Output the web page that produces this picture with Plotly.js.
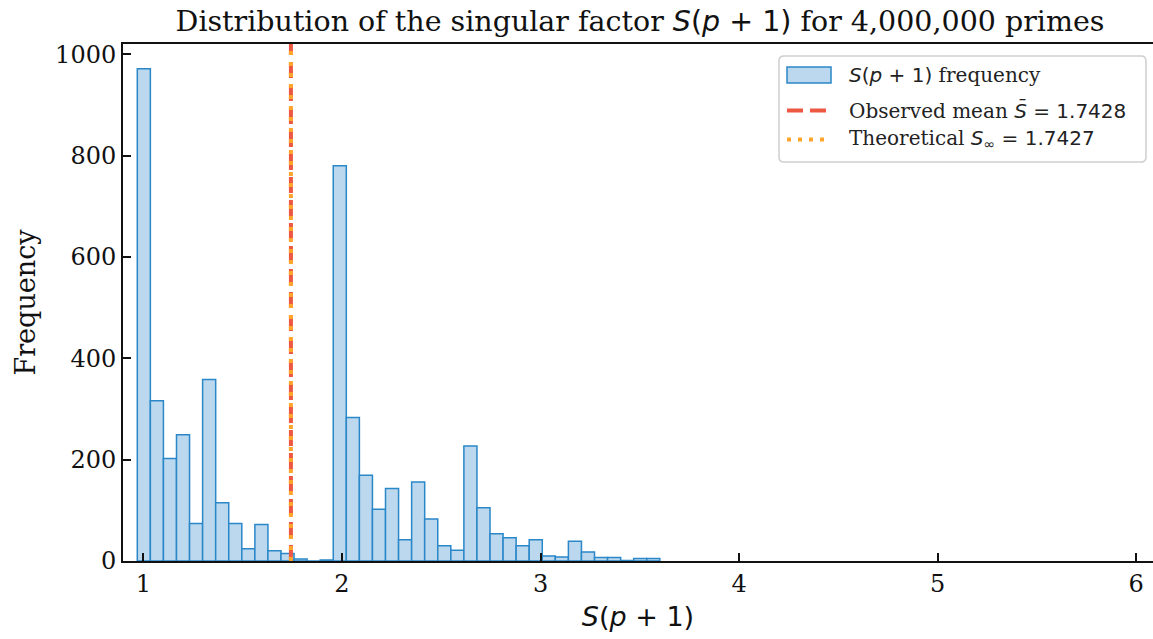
<!DOCTYPE html>
<html>
<head>
<meta charset="utf-8">
<script src="https://cdn.plot.ly/plotly-3.0.1.min.js"></script>
<style>
  html, body { margin: 0; padding: 0; background: #ffffff; overflow: hidden; }
  #chart { width: 1153px; height: 639px; }
</style>
</head>
<body>
<div id="chart"></div>
<script>
// ---- data ----
const binStart = 0.969;      // left edge of the first histogram bin
const binWidth = 0.0658;     // histogram bin width
const binCounts = [971, 316, 202, 249, 74, 358, 115, 74, 24, 72, 20, 15, 4, 0, 2,
                   780, 283, 169, 102, 143, 42, 156, 83, 30, 21, 227, 105, 54, 46, 30,
                   42, 10, 8, 39, 18, 7, 7, 1, 5, 5];
const observedMean = 1.7428;
const theoreticalMean = 1.7427;
const xTicks = [1, 2, 3, 4, 5, 6];
const yTicks = [0, 200, 400, 600, 800, 1000];

// ---- derived ----
const binCenters = binCounts.map((_, i) => binStart + (i + 0.5) * binWidth);
const xRange = [0.897, 6.085];
const yRange = [0, 1020];

const SERIF = 'DejaVu Serif';
const SANS = 'DejaVu Sans';
const mathSP1 = '<span style="font-family:DejaVu Sans"><i>S</i>(<i>p</i> + 1)</span>';

const RED = '#ec5842';
const ORANGE = '#ffa52c';

const traces = [
  {
    type: 'bar',
    x: binCenters,
    y: binCounts,
    width: binWidth,
    marker: { color: '#bbd8ee', line: { color: '#2a87c8', width: 1.5 } },
    name: 'S(p+1) frequency',
    showlegend: false,
    hoverinfo: 'x+y'
  },
  {
    type: 'scatter', mode: 'lines',
    x: [observedMean, observedMean], y: yRange,
    line: { color: RED, width: 4, dash: '16px,7px' },
    name: 'Observed mean', showlegend: false, cliponaxis: true
  },
  {
    type: 'scatter', mode: 'lines',
    x: [theoreticalMean, theoreticalMean], y: yRange,
    line: { color: ORANGE, width: 4, dash: '4px,7px' },
    name: 'Theoretical', showlegend: false, cliponaxis: true
  }
];

// legend (drawn in paper coordinates)
const L = 123, R = 1153, T = 44, B = 561;
const px = v => (v - L) / (R - L);
const py = v => (B - v) / (B - T);

function roundRect(x0, y0, x1, y1, r) {
  // pixel coords -> paper path with rounded corners
  const X = v => px(v).toFixed(5), Y = v => py(v).toFixed(5);
  return 'M' + X(x0 + r) + ',' + Y(y0) +
    ' L' + X(x1 - r) + ',' + Y(y0) +
    ' Q' + X(x1) + ',' + Y(y0) + ' ' + X(x1) + ',' + Y(y0 + r) +
    ' L' + X(x1) + ',' + Y(y1 - r) +
    ' Q' + X(x1) + ',' + Y(y1) + ' ' + X(x1 - r) + ',' + Y(y1) +
    ' L' + X(x0 + r) + ',' + Y(y1) +
    ' Q' + X(x0) + ',' + Y(y1) + ' ' + X(x0) + ',' + Y(y1 - r) +
    ' L' + X(x0) + ',' + Y(y0 + r) +
    ' Q' + X(x0) + ',' + Y(y0) + ' ' + X(x0 + r) + ',' + Y(y0) + ' Z';
}

const shapes = [
  { type: 'path', xref: 'paper', yref: 'paper', path: roundRect(779, 56, 1146, 162, 5),
    line: { color: '#cfcfcf', width: 1.5 }, fillcolor: 'rgba(255,255,255,0.85)', layer: 'above' },
  { type: 'rect', xref: 'paper', yref: 'paper', x0: px(787), x1: px(831), y0: py(83), y1: py(67),
    line: { color: '#2a87c8', width: 1.5 }, fillcolor: '#bbd8ee', layer: 'above' },
  { type: 'line', xref: 'paper', yref: 'paper', x0: px(787), x1: px(827), y0: py(110.5), y1: py(110.5),
    line: { color: RED, width: 4, dash: '16px,7px' }, layer: 'above' },
  { type: 'line', xref: 'paper', yref: 'paper', x0: px(787), x1: px(827), y0: py(139.5), y1: py(139.5),
    line: { color: ORANGE, width: 4, dash: '4px,7px' }, layer: 'above' }
];

const legendFont = { family: SERIF, size: 20, color: '#222222' };
const annotations = [
  { xref: 'paper', yref: 'paper', x: px(847), y: py(75.5), xanchor: 'left', yanchor: 'middle',
    showarrow: false, font: legendFont, text: mathSP1 + ' frequency' },
  { xref: 'paper', yref: 'paper', x: px(847), y: py(110.5), xanchor: 'left', yanchor: 'middle',
    showarrow: false, font: legendFont,
    text: 'Observed mean <span style="font-family:DejaVu Sans"><i>S\u0304</i> = 1.7428</span>' },
  { xref: 'paper', yref: 'paper', x: px(847), y: py(139.5), xanchor: 'left', yanchor: 'middle',
    showarrow: false, font: legendFont,
    text: 'Theoretical <span style="font-family:DejaVu Sans"><i>S</i><sub>\u221e</sub> = 1.7427</span>' }
];

const layout = {
  width: 1153, height: 639,
  margin: { l: 123, r: 0, t: 44, b: 78, pad: 0 },
  paper_bgcolor: '#ffffff', plot_bgcolor: '#ffffff',
  showlegend: false,
  bargap: 0,
  title: {
    text: 'Distribution of the singular factor ' + mathSP1 + ' for 4,000,000 primes',
    font: { family: SERIF, size: 28.5, color: '#111111' },
    x: (640 - L) / (R - L), xref: 'paper', xanchor: 'center',
    y: 1 - 21 / 639, yref: 'container', yanchor: 'middle'
  },
  xaxis: {
    range: xRange, tickvals: xTicks, ticktext: xTicks.map(String),
    ticks: 'inside', ticklen: 8, tickwidth: 2, tickcolor: '#111111',
    showline: true, linecolor: '#111111', linewidth: 2, mirror: true,
    showgrid: false, zeroline: false,
    tickfont: { family: SERIF, size: 24, color: '#111111' },
    title: { text: '<i>S</i>(<i>p</i> + 1)', font: { family: SANS, size: 27, color: '#111111' }, standoff: 10 }
  },
  yaxis: {
    range: yRange, tickvals: yTicks, ticktext: yTicks.map(String),
    ticks: 'inside', ticklen: 8, tickwidth: 2, tickcolor: '#111111',
    showline: true, linecolor: '#111111', linewidth: 2, mirror: false,
    showgrid: false, zeroline: false,
    tickfont: { family: SERIF, size: 24, color: '#111111' },
    title: { text: 'Frequency', font: { family: SERIF, size: 27, color: '#111111' }, standoff: 12 }
  },
  shapes: shapes,
  annotations: annotations
};

Plotly.newPlot('chart', traces, layout, { staticPlot: true, displayModeBar: false });
</script>
</body>
</html>
